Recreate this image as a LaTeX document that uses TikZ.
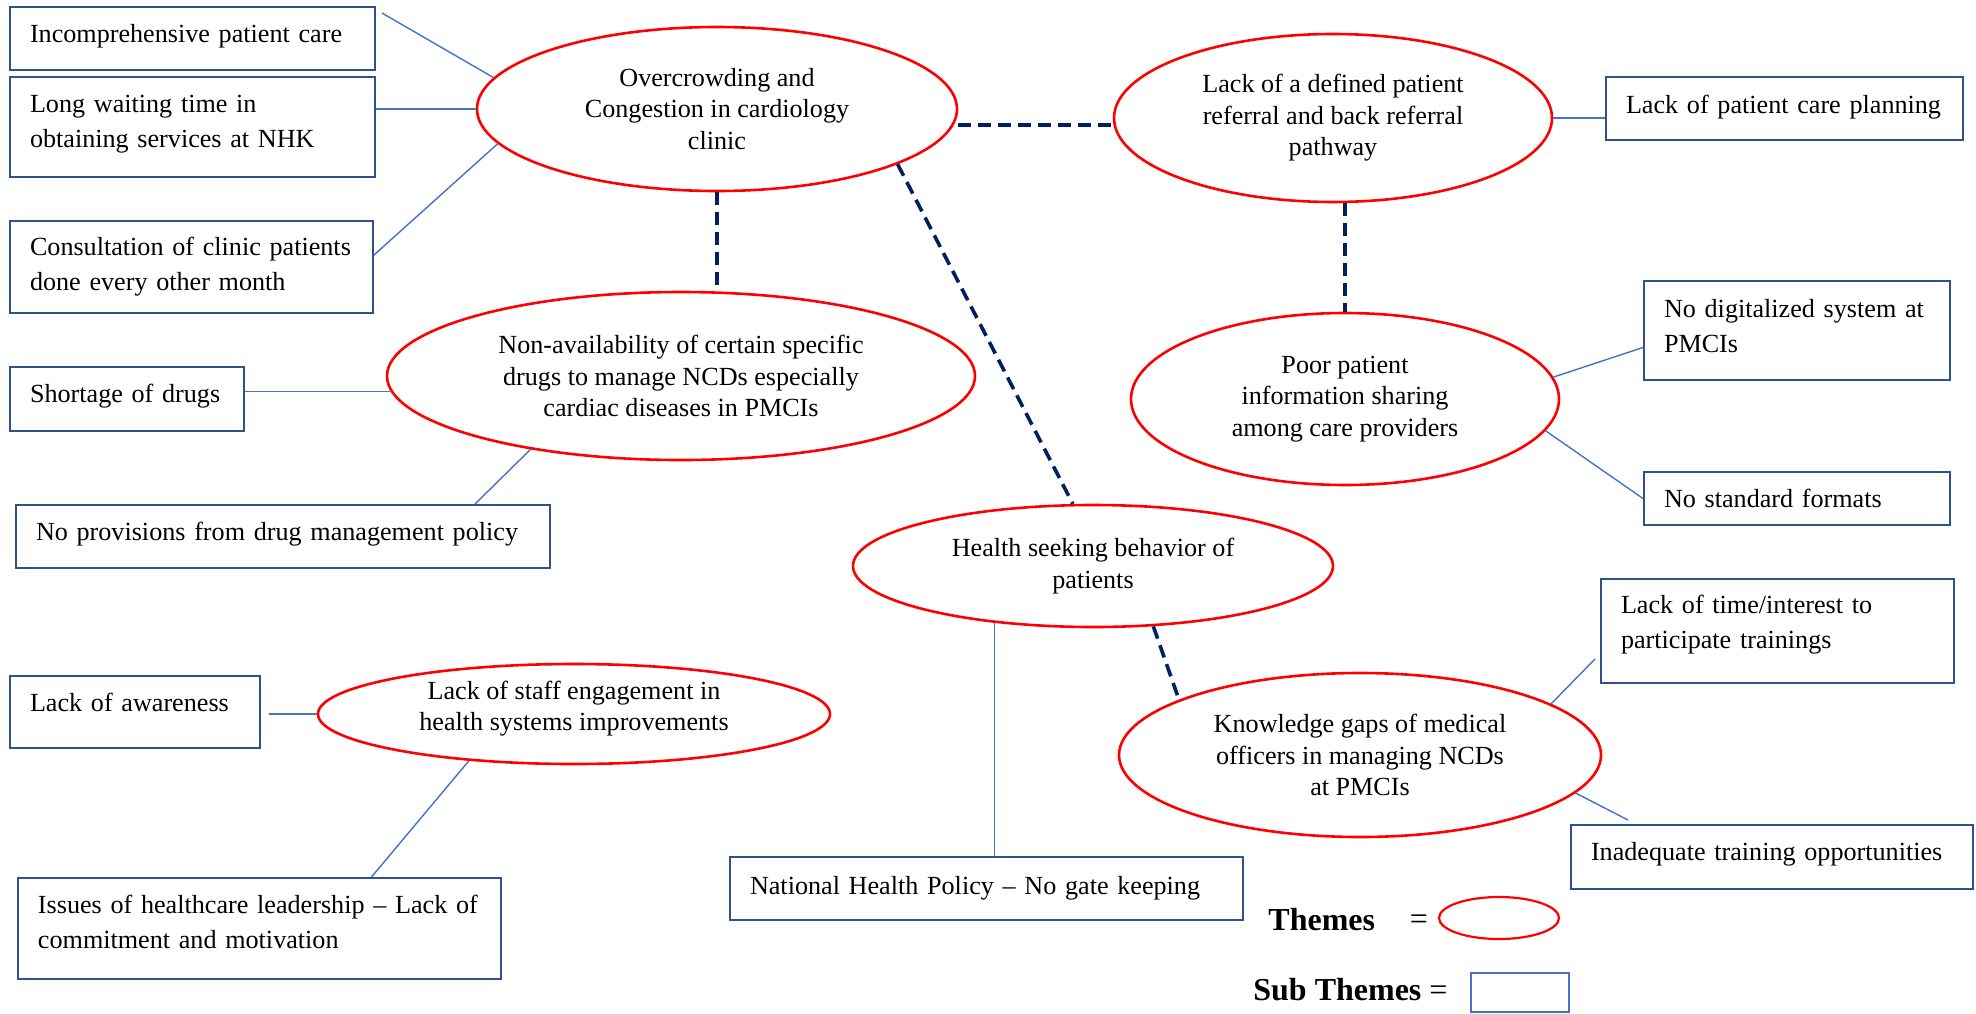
\documentclass[tikz,border=0pt]{standalone}
\usepackage{fontspec}
\setmainfont{Liberation Serif}
\usetikzlibrary{calc,shapes.geometric}
\definecolor{themered}{RGB}{255,0,0}
\definecolor{boxblue}{RGB}{47,82,143}
\definecolor{linkblue}{RGB}{68,114,196}
\definecolor{navy}{RGB}{0,32,96}
\begin{document}
\begin{tikzpicture}[x=0.5pt,y=-0.5pt,
  theme/.style={ellipse, draw=themered, line width=1.3pt, inner sep=0pt, align=center, font=\fontsize{13.07}{15.7}\selectfont},
  subbox/.style={rectangle, draw=boxblue, line width=1pt, inner xsep=10pt, inner ysep=0pt, align=left, font=\fontsize{13.07}{17.5}\selectfont},
  link/.style={draw=linkblue, line width=0.7pt},
  tie/.style={draw=navy, line width=1.8pt, dash pattern=on 6.5pt off 3.5pt},
]
\useasboundingbox (0,0) rectangle (1976,1013);

% themes
\node[theme, minimum width=240pt, minimum height=82pt] (E1) at (717,109) {Overcrowding and\\Congestion in cardiology\\clinic};
\node[theme, minimum width=219pt, minimum height=84pt] (E2) at (1333,118) {Lack of a defined patient\\referral and back referral\\pathway};
\node[theme, minimum width=294pt, minimum height=84pt] (E3) at (681,376) {Non-availability of certain specific\\drugs to manage NCDs especially\\cardiac diseases in PMCIs};
\node[theme, minimum width=214pt, minimum height=86pt] (E4) at (1345,399) {Poor patient\\information sharing\\among care providers};
\node[theme, minimum width=240pt, minimum height=61pt] (E5) at (1093,566) {Health seeking behavior of\\patients};
\node[theme, minimum width=256pt, minimum height=50pt, text depth=8.3pt] (E6) at (574,714) {Lack of staff engagement in\\health systems improvements};
\node[theme, minimum width=241pt, minimum height=82pt] (E7) at (1360,755) {Knowledge gaps of medical\\officers in managing NCDs\\at PMCIs};

% sub themes
\node[subbox, minimum width=182.5pt, minimum height=31.5pt, text width=162.5pt, text depth=5.3pt] (B1) at (192.5,38.5) {\mbox{Incomprehensive patient care}};
\node[subbox, minimum width=182.5pt, minimum height=50pt, text width=162.5pt, text depth=22.8pt] (B2) at (192.5,127) {\mbox{Long waiting time in}\\\mbox{obtaining services at NHK}};
\node[subbox, minimum width=181.5pt, minimum height=46pt, text width=161.5pt] (B3) at (191.5,267) {\mbox{Consultation of clinic patients}\\\mbox{done every other month}};
\node[subbox, minimum width=178.5pt, minimum height=31.5pt, text width=158.5pt, text depth=4.1pt] (B4) at (1784.5,108.5) {\mbox{Lack of patient care planning}};
\node[subbox, minimum width=153pt, minimum height=49.5pt, text width=133pt, text depth=22.5pt] (B5) at (1797,330.5) {\mbox{No digitalized system at}\\PMCIs};
\node[subbox, minimum width=153pt, minimum height=26.5pt, text width=133pt] (B6) at (1797,498.5) {\mbox{No standard formats}};
\node[subbox, minimum width=117pt, minimum height=32pt, text width=97pt, text depth=5.3pt] (B7) at (127,399) {\mbox{Shortage of drugs}};
\node[subbox, minimum width=267pt, minimum height=31.5pt, text width=247pt, text depth=5.3pt] (B8) at (283,536.5) {\mbox{No provisions from drug management policy}};
\node[subbox, minimum width=176.5pt, minimum height=52pt, text width=156.5pt, text depth=26.6pt] (B9) at (1777.5,631) {\mbox{Lack of time/interest to}\\\mbox{participate trainings}};
\node[subbox, minimum width=201pt, minimum height=32pt, text width=181pt, text depth=5.3pt] (B10) at (1772,857) {\mbox{Inadequate training opportunities}};
\node[subbox, minimum width=125pt, minimum height=36pt, text width=105pt, text depth=10pt] (B11) at (135,712) {\mbox{Lack of awareness}};
\node[subbox, minimum width=241.5pt, minimum height=50.5pt, text width=221.5pt, text depth=23.8pt] (B12) at (259.5,928.5) {\mbox{Issues of healthcare leadership – Lack of}\\\mbox{commitment and motivation}};
\node[subbox, minimum width=256.5pt, minimum height=31.5pt, text width=236.5pt] (B13) at (986.5,888.5) {\mbox{National Health Policy – No gate keeping}};

% connectors
\draw[link] ($(B1.north east)+(6,7)$) -- (E1.172);
\draw[link] (E1.west) -- (E1.west -| B2.east);
\draw[link] ($(B3.east)+(0,-12)$) -- (E1.189);
\draw[tie] ($(E1.east)+(0,16)$) -- ($(E2.west)+(0,7)$);
\draw[tie] (E1.south) -- (E1.south |- E3.north);
\draw[tie] (E1.-17) -- (E5.108);
\draw[link] (E2.east) -- (E2.east -| B4.west);
\draw[tie] (E4.north |- E2.south) -- (E4.north);
\draw[link] (E4.6) -- ($(B5.west)+(0,17)$);
\draw[link] (E4.-9) -- (B6.west);
\draw[link] (E3.183) -- (E3.183 -| B7.east);
\draw[link] ($(B8.north east)+(-76,0)$) -- (E3.206);
\draw[link] (E5.210) -- (E5.210 |- B13.north);
\draw[tie] (E5.-45) -- (E7.163);
\draw[link] (E7.15) -- ($(B9.south west)+(-5,-25)$);
\draw[link] (E7.-10) -- ($(B10.north west)+(58,-4)$);
\draw[link, shorten >=4pt] (E6.west) -- (E6.west -| B11.east);
\draw[link] (E6.204) -- ($(B12.north)+(112,0)$);

% legend
\node[anchor=west, inner sep=0pt, font=\bfseries\fontsize{16}{18}\selectfont] (T1) at (1268,920) {Themes};
\node[inner sep=0pt, font=\fontsize{16}{18}\selectfont] (T2) at (1419,922) {=};
\node[ellipse, draw=themered, line width=1.1pt, minimum width=60pt, minimum height=21pt, inner sep=0pt] (LE) at (1499,918) {};
\node[anchor=west, inner sep=0pt, font=\fontsize{16}{18}\selectfont] (T3) at (1253,990) {\textbf{Sub Themes} =};
\node[rectangle, draw=linkblue, line width=0.8pt, minimum width=49pt, minimum height=19.5pt, inner sep=0pt] (LB) at (1520,992.5) {};
\end{tikzpicture}
\end{document}
